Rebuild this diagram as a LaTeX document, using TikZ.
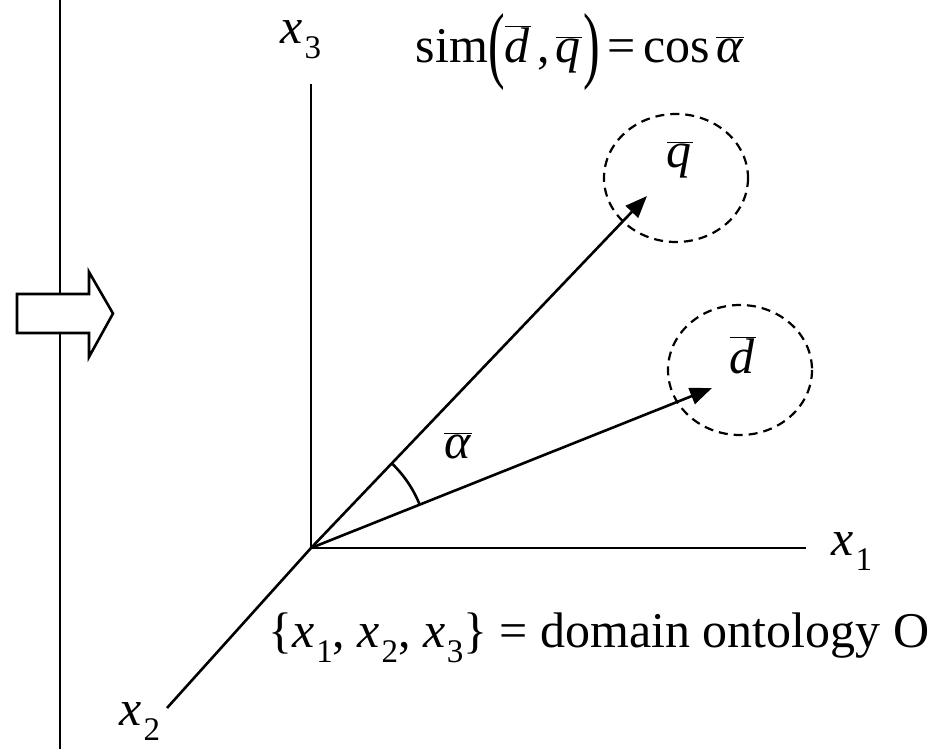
\documentclass[tikz,border=0pt]{standalone}
\usepackage{fontspec}
\setmainfont{Liberation Serif}
\usetikzlibrary{arrows.meta}
\newcommand\ovl[1]{$\overline{\hbox{\itshape #1\kern0.03em}}$}
\newcommand\sbs[1]{\raisebox{-0.3em}{\fontsize{33}{33}\selectfont #1}}
\newcommand\vx[1]{\textit{x}\kern0.03em\sbs{#1}}
\newcommand\bigpar[1]{\raisebox{-0.2em}{\scalebox{1}[1.7]{#1}}}
\begin{document}
\begin{tikzpicture}[x=1pt,y=-1pt,line width=2.6pt,
  lbl/.style={font=\fontsize{50}{54}\selectfont, inner sep=0pt},
  vec/.style={-{Triangle[length=22pt,width=17pt]}},
  zone/.style={dashed, dash pattern=on 9pt off 6pt, line width=2.2pt},
  blockarrow/.style={draw, fill=white, line width=2.6pt, line join=miter}]
\useasboundingbox (0,0) rectangle (945,749);
% left divider line
\coordinate (lt) at (60,0);
\coordinate (lb) at (60,749);
\draw (lt) -- (lb);
% block arrow
\draw[blockarrow] (17,294) -- (89,294) -- (89,272) -- (113,313.5) -- (89,357) -- (89,333) -- (17,333) -- cycle;
% axes
\coordinate (O) at (311,548);
\coordinate (x1e) at (806,548);
\coordinate (x3e) at (311,84);
\coordinate (x2e) at (167,708);
\draw (O) -- (x1e);
\draw (O) -- (x3e);
\draw (O) -- (x2e);
% vectors
\coordinate (qt) at (647,196);
\coordinate (dt) at (712,388);
\draw[vec] (O) -- (qt);
\draw[vec] (O) -- (dt);
% angle arc
\draw ([shift={(-21.8:117)}]O) arc[start angle=-21.8, end angle=-46.2, radius=117];
% dashed zones
\draw[zone] (676,178) ellipse [x radius=72, y radius=64];
\draw[zone] (740,370) ellipse [x radius=72, y radius=65];
% labels
\node[lbl] (lx3) at (301,40) {\vx{3}};
\node[lbl] (lx1) at (852,552) {\vx{1}};
\node[lbl] (lx2) at (140,722) {\vx{2}};
\node[lbl] (lq) at (680,160) {\ovl{q}};
\node[lbl] (ld) at (743,355) {\ovl{d}};
\node[lbl] (la) at (458,446) {$\overline{\hbox{\itshape α\kern0.03em}}$};
\node[lbl] (sim) at (580,52) {sim\bigpar{(}\ovl{d}\kern0.12em,\kern0.12em\ovl{q}\kern0.03em\bigpar{)}\kern0.15em=\kern0.15em cos\kern0.12em$\overline{\hbox{\itshape α\kern0.03em}}$};
\node[lbl] (dom) at (599,638) {\{\vx{1}, \vx{2}, \vx{3}\} = domain ontology O};
\end{tikzpicture}
\end{document}
